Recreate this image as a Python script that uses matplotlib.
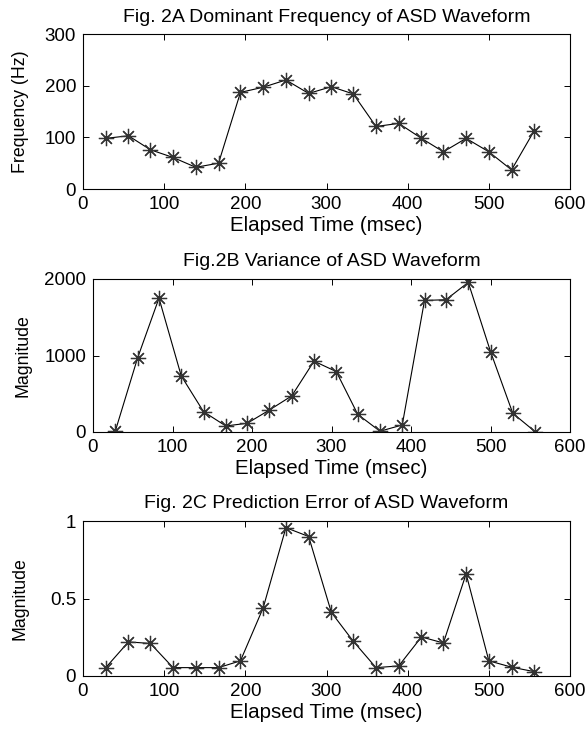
import numpy as np
import matplotlib
matplotlib.use("Agg")
import matplotlib.pyplot as plt
from matplotlib.ticker import FuncFormatter

plt.rcParams['font.family'] = ['Liberation Sans', 'DejaVu Sans']

# elapsed time (msec) of each window
t = [28, 56, 83, 111, 139, 167, 194, 222, 250, 278,
     306, 333, 361, 389, 417, 444, 472, 500, 528, 556]

# Fig 2A: dominant frequency (Hz)
freq = [98, 103, 76, 61, 42, 50, 187, 197, 211, 185,
        198, 184, 121, 127, 98, 72, 98, 72, 37, 113]

# Fig 2B: variance
variance = [10, 965, 1750, 733, 266, 79, 114, 288, 472, 926,
            790, 231, 10, 92, 1720, 1729, 1956, 1052, 245, 5]

# Fig 2C: prediction error
pred_err = [0.054, 0.22, 0.21, 0.054, 0.054, 0.054, 0.098, 0.44, 0.957, 0.90,
            0.41, 0.224, 0.054, 0.065, 0.252, 0.213, 0.659, 0.098, 0.057, 0.028]

W, H = 588, 729
fig = plt.figure(figsize=(W / 100, H / 100), dpi=100)

def box(l, r, top, bot):
    return [l / W, 1 - bot / H, (r - l) / W, (bot - top) / H]

panels = [
    (box(83, 570, 34, 189), freq, [0, 300], [0, 100, 200, 300],
     'Frequency (Hz)', 'Fig. 2A Dominant Frequency of ASD Waveform', 11),
    (box(93, 570, 279, 432), variance, [0, 2000], [0, 1000, 2000],
     'Magnitude', 'Fig.2B Variance of ASD Waveform', 9),
    (box(83, 570, 521, 676), pred_err, [0, 1], [0, 0.5, 1],
     'Magnitude', 'Fig. 2C Prediction Error of ASD Waveform', 15),
]

star = (8, 2, 0)
for rect, vals, ylim, yt, ylab, title, lp in panels:
    ax = fig.add_axes(rect)
    ax.plot(t, vals, color='black', lw=0.8, marker=star, ms=11,
            mec='#333333', mew=0.9)
    ax.set_xlim(0, 600)
    ax.set_ylim(*ylim)
    ax.set_xticks(range(0, 601, 100))
    ax.set_yticks(yt)
    ax.yaxis.set_major_formatter(FuncFormatter(lambda v, p: ('%g' % v)))
    ax.tick_params(direction='in', top=True, right=True, length=4,
                   width=0.7, labelsize=13.5, pad=5)
    for s in ax.spines.values():
        s.set_linewidth(0.8)
    ax.set_xlabel('Elapsed Time (msec)', fontsize=14.8, labelpad=2)
    ax.set_ylabel(ylab, fontsize=12.8, labelpad=lp)
    ax.set_title(title, fontsize=14, pad=9)

fig.savefig('out.png', dpi=100)
